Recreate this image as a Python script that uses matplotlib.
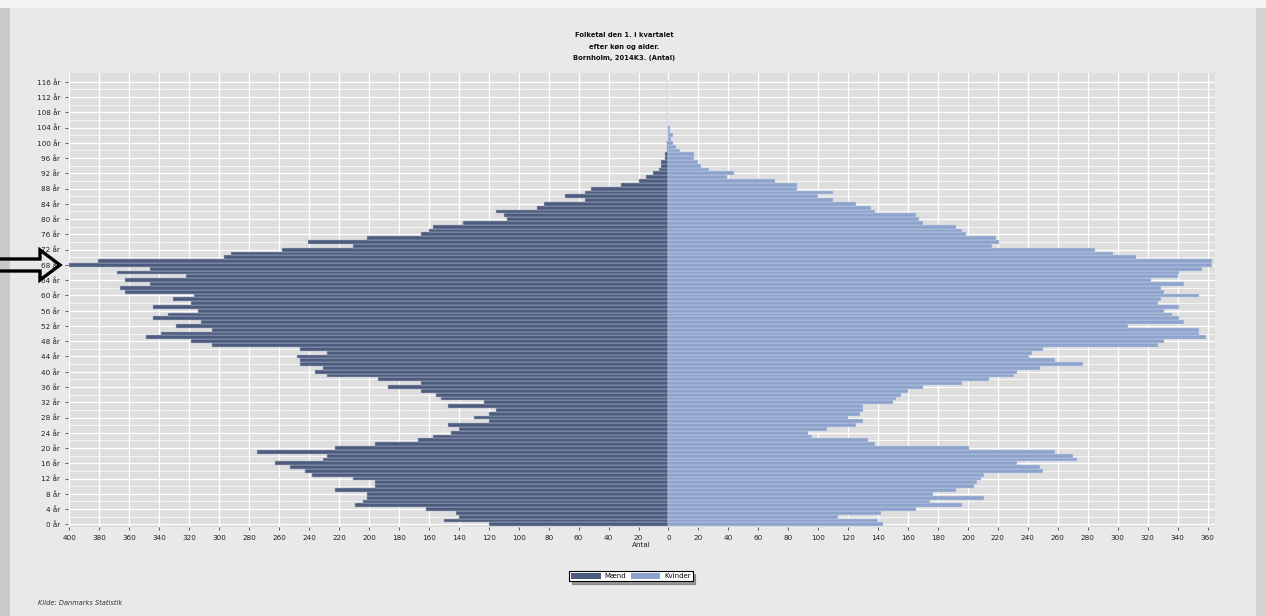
import matplotlib
matplotlib.use("Agg")
import matplotlib.pyplot as plt
import matplotlib.patches as mpatches
import numpy as np

ages = list(range(0, 117))

men = [120, 150, 140, 142, 162, 209, 204, 201, 201, 223,
       196, 196, 211, 238, 243, 253, 263, 231, 228, 275,
       223, 196, 167, 157, 145, 140, 147, 120, 130, 120,
       115, 147, 123, 152, 155, 165, 187, 165, 194, 228,
       236, 231, 246, 246, 248, 228, 246, 305, 319, 349,
       339, 305, 329, 312, 344, 334, 314, 344, 319, 331,
       317, 363, 366, 346, 363, 322, 368, 346, 400, 381,
       297, 292, 258, 211, 241, 201, 165, 160, 157, 137,
       108, 110, 115, 88, 83, 56, 69, 56, 52, 32,
       20, 15, 10, 6, 5, 5, 2, 2, 1, 1,
       1, 0, 0, 0, 0, 0, 0, 0, 0, 0,
       0, 0, 0, 0, 0, 0, 0]

women = [143, 140, 113, 142, 165, 196, 175, 211, 177, 192,
         204, 206, 209, 211, 250, 248, 233, 273, 270, 258,
         201, 138, 133, 96, 93, 106, 125, 130, 120, 128,
         130, 130, 150, 152, 155, 160, 170, 196, 214, 231,
         233, 248, 277, 258, 241, 243, 250, 327, 331, 359,
         354, 354, 307, 344, 341, 336, 331, 341, 327, 329,
         354, 331, 329, 344, 322, 340, 341, 356, 363, 363,
         312, 297, 285, 216, 221, 219, 199, 196, 192, 170,
         167, 165, 138, 135, 125, 110, 100, 110, 86, 86,
         71, 39, 44, 27, 22, 20, 17, 17, 8, 5,
         3, 2, 3, 1, 1, 0, 0, 0, 0, 0,
         0, 0, 0, 0, 0, 0, 0]

x_ticks = list(range(-400, 361, 20))
y_ticks = list(range(0, 117, 4))
title_lines = ["Folketal den 1. i kvartalet", "efter køn og alder.", "Bornholm, 2014K3. (Antal)"]
series_names = ["Mænd", "Kvinder"]

W, H = 1266, 616
fig = plt.figure(figsize=(W / 100, H / 100), dpi=100)
fig.patch.set_facecolor("#e9e9e9")


def px(x, y):
    return (x / W, 1 - y / H)


# slide frame strips
fig.patches.append(mpatches.Rectangle((0, 0), 10 / W, 1, transform=fig.transFigure,
                                      facecolor="#c9c9c9", edgecolor="none", zorder=0))
fig.patches.append(mpatches.Rectangle((1256 / W, 0), 10 / W, 1, transform=fig.transFigure,
                                      facecolor="#d2d2d2", edgecolor="none", zorder=0))
fig.patches.append(mpatches.Rectangle((0, 1 - 8 / H), 1, 8 / H, transform=fig.transFigure,
                                      facecolor="#f3f3f3", edgecolor="none", zorder=0))

ax = fig.add_axes([68 / W, 1 - 527 / H, (1215 - 68) / W, (527 - 73) / H])
ax.set_facecolor("#dedede")

male_col = "#4d5c7e"
female_col = "#8ea3cb"
ax.barh(ages, [-v for v in men], height=1.0, color=male_col,
        edgecolor="#aeb8cc", linewidth=0.35, zorder=3)
ax.barh(ages, women, height=1.0, color=female_col,
        edgecolor="#c6d2ea", linewidth=0.35, zorder=3)

ax.set_xlim(-401, 365)
ax.set_ylim(-0.7, 118.3)
ax.set_xticks(x_ticks)
ax.set_xticklabels([str(abs(t)) for t in x_ticks])
ax.set_yticks(y_ticks)
ax.set_yticklabels([f"{a} år" for a in y_ticks])
ax.set_yticks(list(range(2, 117, 4)), minor=True)
ax.tick_params(axis="both", labelsize=5.2, colors="#222222", length=2, width=0.5)
ax.tick_params(axis="y", which="minor", length=0)
ax.grid(True, which="major", color="white", linewidth=0.9, zorder=0)
ax.grid(True, which="minor", axis="y", color="white", linewidth=0.5, zorder=0)
ax.set_axisbelow(True)
for s in ax.spines.values():
    s.set_visible(False)
ax.set_xlabel("Antal", fontsize=5.2, color="#222222", labelpad=1)

# title
for i, line in enumerate(title_lines):
    fig.text(624 / W, 1 - (35 + i * 11.5) / H, line, ha="center", va="center",
             fontsize=4.9, fontweight="bold", color="#111111")

# legend
handles = [mpatches.Patch(facecolor=male_col, edgecolor="none"),
           mpatches.Patch(facecolor=female_col, edgecolor="none")]
leg = fig.legend(handles, series_names, loc="center", bbox_to_anchor=(631 / W, 1 - 576 / H),
                 ncol=2, fontsize=5, frameon=True, fancybox=False, shadow=True,
                 handlelength=4.2, handleheight=0.9, columnspacing=0.8, handletextpad=0.5,
                 borderpad=0.3, borderaxespad=0)
leg.get_frame().set_edgecolor("black")
leg.get_frame().set_linewidth(0.8)
leg.get_frame().set_facecolor("white")

fig.text(38 / W, 1 - 603 / H, "Kilde: Danmarks Statistik", fontsize=4.8,
         style="italic", color="#333333", ha="left", va="center")

# pointer arrow (double-line outline arrow, see-through)
cy = 265
arrow_pts = [px(-6, cy - 6), px(40, cy - 6), px(40, cy - 15), px(60, cy),
             px(40, cy + 15), px(40, cy + 6), px(-6, cy + 6)]
fig.patches.append(mpatches.Polygon(arrow_pts, closed=True, transform=fig.transFigure,
                                    facecolor="none", edgecolor="black", linewidth=2.4,
                                    joinstyle="miter", zorder=10))

fig.savefig("out.png", dpi=100, facecolor=fig.get_facecolor())
